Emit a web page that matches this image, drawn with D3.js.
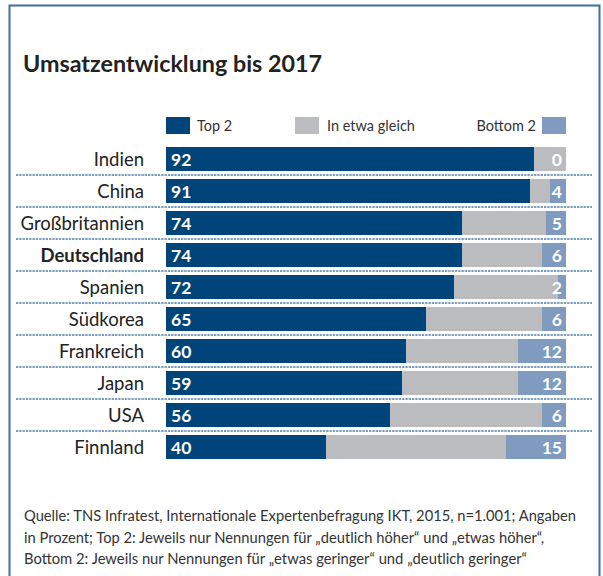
<!DOCTYPE html>
<html>
<head>
<meta charset="utf-8">
<script src="https://cdn.jsdelivr.net/npm/d3@7"></script>
<style>
  body { margin: 0; background: #fff; }
  svg text { font-family: Lato, "Noto Sans", sans-serif; }
</style>
</head>
<body>
<svg width="603" height="576"></svg>
<script>
const countries = ['Indien', 'China', 'Großbritannien', 'Deutschland', 'Spanien',
                   'Südkorea', 'Frankreich', 'Japan', 'USA', 'Finnland'];
const top2 = [92, 91, 74, 74, 72, 65, 60, 59, 56, 40];
const bottom2 = [0, 4, 5, 6, 2, 6, 12, 12, 6, 15];
const seriesNames = ['Top 2', 'In etwa gleich', 'Bottom 2'];
const notes = [
  'Quelle: TNS Infratest, Internationale Expertenbefragung IKT, 2015, n=1.001; Angaben',
  'in Prozent; Top 2: Jeweils nur Nennungen für „deutlich höher“ und „etwas höher“,',
  'Bottom 2: Jeweils nur Nennungen für „etwas geringer“ und „deutlich geringer“'
];

const colors = {
  top: '#00457a',
  mid: '#bbbcbf',
  bottom: '#7f9bbf',
  frame: '#3f70a0',
  dots: '#4f7ca8',
  text: '#222'
};

const svg = d3.select('svg');

// frame (bottom edge cut off in the original)
svg.append('path')
  .attr('d', 'M9.5,576 V5.5 H599.5 V576')
  .attr('fill', 'none')
  .attr('stroke', colors.frame)
  .attr('stroke-width', 2);

svg.append('text')
  .attr('x', 23).attr('y', 72)
  .attr('font-size', 23).attr('font-weight', 700)
  .attr('fill', colors.text)
  .attr('textLength', 299).attr('lengthAdjust', 'spacingAndGlyphs')
  .text('Umsatzentwicklung bis 2017');

const x = d3.scaleLinear().domain([0, 100]).range([166, 566]);
const y = d3.scaleBand().domain(countries).range([143, 463]).paddingInner(0.25).paddingOuter(0.125);

// legend
const legend = svg.append('g');
legend.append('rect').attr('x', 166).attr('y', 117).attr('width', 24).attr('height', 17).attr('fill', colors.top);
legend.append('text').attr('x', 197).attr('y', 131).attr('font-size', 14.5).attr('fill', '#333').text(seriesNames[0]);
legend.append('rect').attr('x', 295).attr('y', 117).attr('width', 24).attr('height', 17).attr('fill', colors.mid);
legend.append('text').attr('x', 327).attr('y', 131).attr('font-size', 14.5).attr('fill', '#333').text(seriesNames[1]);
legend.append('rect').attr('x', 542).attr('y', 117).attr('width', 24).attr('height', 17).attr('fill', colors.bottom);
legend.append('text').attr('x', 536).attr('y', 131).attr('font-size', 14.5).attr('fill', '#333')
  .attr('text-anchor', 'end').text(seriesNames[2]);

const rows = countries.map((c, i) => ({
  name: c, top: top2[i], bottom: bottom2[i], mid: 100 - top2[i] - bottom2[i]
}));

// dotted separators
svg.append('g').selectAll('line')
  .data(countries.slice(1))
  .join('line')
  .attr('x1', 16).attr('x2', 592)
  .attr('y1', d => y(d) - y.step() * y.paddingInner() / 2)
  .attr('y2', d => y(d) - y.step() * y.paddingInner() / 2)
  .attr('stroke', colors.dots)
  .attr('stroke-width', 1.5)
  .attr('stroke-dasharray', '2.3,1');

const row = svg.append('g').selectAll('g')
  .data(rows)
  .join('g')
  .attr('transform', d => `translate(0,${y(d.name)})`);

row.append('rect')
  .attr('x', x(0)).attr('width', d => x(d.top) - x(0))
  .attr('height', y.bandwidth()).attr('fill', colors.top);
row.append('rect')
  .attr('x', d => x(d.top)).attr('width', d => x(d.top + d.mid) - x(d.top))
  .attr('height', y.bandwidth()).attr('fill', colors.mid);
row.append('rect')
  .attr('x', d => x(d.top + d.mid)).attr('width', d => x(100) - x(d.top + d.mid))
  .attr('height', y.bandwidth()).attr('fill', colors.bottom);

row.append('text')
  .attr('x', 144).attr('y', y.bandwidth() / 2 + 6.5)
  .attr('text-anchor', 'end')
  .attr('font-size', 18.5)
  .attr('font-weight', d => d.name === 'Deutschland' ? 700 : 400)
  .attr('fill', colors.text)
  .text(d => d.name);

row.append('text')
  .attr('x', x(0) + 5).attr('y', y.bandwidth() / 2 + 6.5)
  .attr('font-size', 17.5).attr('font-weight', 700).attr('fill', '#fff')
  .text(d => d.top);

row.append('text')
  .attr('x', x(100) - 4).attr('y', y.bandwidth() / 2 + 6.5)
  .attr('text-anchor', 'end')
  .attr('font-size', 17.5).attr('font-weight', 700).attr('fill', '#fff')
  .text(d => d.bottom);

svg.append('g').selectAll('text')
  .data(notes)
  .join('text')
  .attr('x', 24)
  .attr('y', (d, i) => 521 + i * 21.5)
  .attr('font-size', 14.5)
  .attr('fill', '#333')
  .attr('textLength', (d, i) => [552, 520, 503][i])
  .attr('lengthAdjust', 'spacingAndGlyphs')
  .text(d => d);
</script>
</body>
</html>
